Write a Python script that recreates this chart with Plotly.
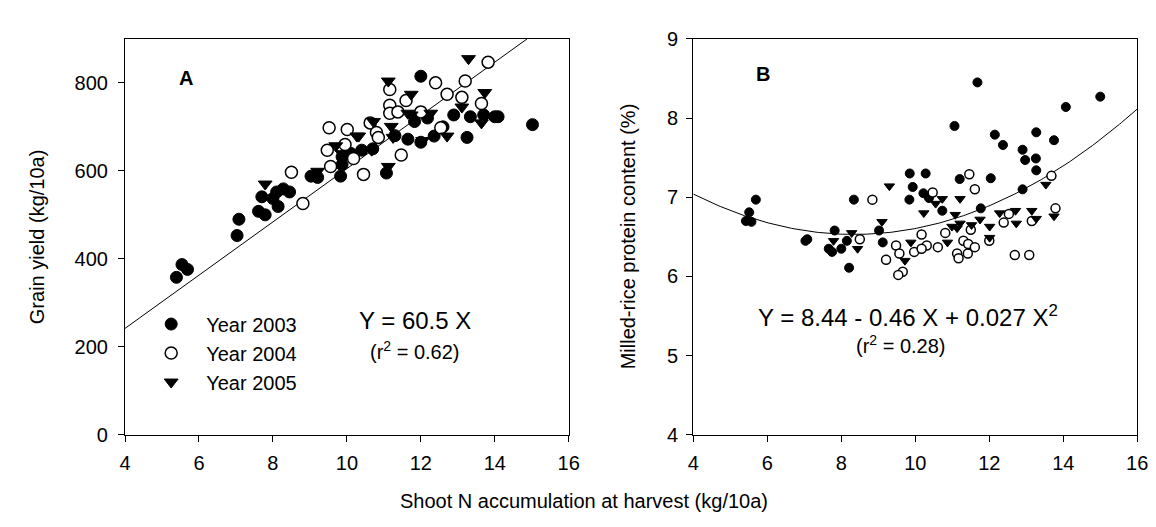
import numpy as np
import plotly.graph_objects as go
from plotly.subplots import make_subplots

# Panel A: grain yield (kg/10a) vs shoot N (kg/10a)
a03_x = [5.39, 5.54, 5.69, 7.03, 7.08, 7.61, 7.79, 7.70, 8.00, 8.14, 8.28, 8.45, 8.10,
         9.03, 9.21, 9.83, 9.87, 9.87, 10.10, 10.40, 10.70, 11.07, 11.30, 11.65, 11.83,
         12.00, 12.00, 12.18, 12.36, 12.60, 12.89, 13.25, 13.34, 13.70, 14.00, 14.09, 15.02]
a03_y = [358, 387, 376, 453, 490, 508, 500, 541, 537, 519, 559, 552, 552,
         588, 585, 588, 614, 632, 640, 647, 650, 595, 680, 672, 712,
         815, 665, 720, 679, 700, 727, 676, 723, 727, 723, 723, 705]

a04_x = [8.50, 8.81, 9.47, 9.52, 9.56, 9.95, 10.01, 10.18, 10.45, 10.63, 10.80, 10.85,
         11.16, 11.16, 11.16, 11.38, 11.47, 11.60, 12.00, 12.40, 12.54, 12.71, 13.11,
         13.20, 13.64, 13.82]
a04_y = [597, 526, 647, 698, 610, 660, 694, 628, 592, 709, 687, 676,
         785, 749, 731, 734, 636, 760, 734, 800, 698, 774, 767,
         804, 753, 847]

a05_x = [7.79, 9.21, 9.70, 9.87, 10.27, 10.32, 10.67, 10.72, 11.12, 11.12, 11.20, 11.25,
         11.65, 11.74, 11.74, 12.05, 12.27, 12.71, 13.11, 13.29, 13.64, 13.73]
a05_y = [570, 599, 657, 639, 679, 679, 647, 712, 804, 610, 701, 676,
         731, 774, 727, 669, 731, 679, 745, 855, 709, 778]

# Panel B: milled-rice protein content (%) vs shoot N (kg/10a)
b03_x = [5.42, 5.57, 5.51, 5.69, 7.03, 7.08, 7.66, 7.75, 7.82, 8.00, 8.15, 8.21, 8.34,
         9.02, 9.12, 9.85, 9.93, 9.84, 10.22, 10.28, 10.37, 10.73, 11.06, 11.20, 11.68,
         11.77, 12.04, 12.15, 12.37, 12.90, 12.90, 12.97, 13.26, 13.27, 13.27, 13.75,
         14.07, 15.00]
b03_y = [6.70, 6.69, 6.81, 6.97, 6.45, 6.47, 6.35, 6.31, 6.58, 6.35, 6.45, 6.11, 6.97,
         6.58, 6.43, 7.30, 7.13, 6.97, 7.05, 7.30, 6.99, 6.83, 7.90, 7.23, 8.45,
         6.86, 7.24, 7.79, 7.66, 7.60, 7.10, 7.47, 7.49, 7.34, 7.82, 7.72,
         8.14, 8.27]

b04_x = [8.84, 8.50, 9.48, 9.57, 9.21, 9.66, 9.54, 9.97, 10.17, 10.31, 10.17, 10.47,
         10.61, 10.81, 11.13, 11.17, 11.42, 11.30, 11.43, 11.61, 11.50, 11.46, 11.61,
         12.00, 12.39, 12.53, 12.69, 13.08, 13.15, 13.68, 13.79]
b04_y = [6.97, 6.47, 6.39, 6.29, 6.21, 6.06, 6.02, 6.31, 6.53, 6.39, 6.35, 7.06,
         6.37, 6.55, 6.29, 6.23, 6.29, 6.45, 6.41, 6.37, 6.59, 7.29, 7.10,
         6.45, 6.68, 6.79, 6.27, 6.27, 6.70, 7.27, 6.86]

b05_x = [7.79, 8.28, 8.44, 9.10, 9.30, 9.72, 9.88, 10.23, 10.55, 10.73, 10.87, 10.99,
         11.08, 11.13, 11.21, 11.21, 11.52, 11.75, 12.01, 12.01, 12.28, 12.71, 12.73,
         13.15, 13.27, 13.53, 13.75]
b05_y = [6.45, 6.55, 6.35, 6.69, 7.14, 6.20, 6.43, 6.80, 6.92, 6.98, 6.43, 6.63,
         6.78, 6.61, 6.67, 6.98, 6.65, 6.72, 6.63, 6.49, 6.80, 6.83, 6.67,
         6.83, 6.73, 7.16, 6.76]

# fitted lines
slope_a = 60.5
coef_b = [8.41, -0.4505, 0.027]

FONT = "Liberation Sans, Arial, sans-serif"
W, H = 1156, 527

fig = make_subplots(rows=1, cols=2)

years = ["Year 2003", "Year 2004", "Year 2005"]
styles = [
    dict(symbol="circle", color="black", line=dict(color="black", width=1)),
    dict(symbol="circle", color="white", line=dict(color="black", width=1.5)),
    dict(symbol="triangle-down", color="black", line=dict(color="black", width=1)),
]
panel_a = [(a03_x, a03_y), (a04_x, a04_y), (a05_x, a05_y)]
panel_b = [(b03_x, b03_y), (b04_x, b04_y), (b05_x, b05_y)]

# regression lines first, so points sit on top
xa = np.array([4, 900 / slope_a])
fig.add_trace(go.Scatter(x=xa, y=slope_a * xa, mode="lines", line=dict(color="black", width=1),
                         showlegend=False, hoverinfo="skip"), row=1, col=1)
xb = np.linspace(4, 16, 200)
fig.add_trace(go.Scatter(x=xb, y=coef_b[0] + coef_b[1] * xb + coef_b[2] * xb ** 2, mode="lines",
                         line=dict(color="black", width=1), showlegend=False, hoverinfo="skip"),
              row=1, col=2)

for i, name in enumerate(years):
    fig.add_trace(go.Scatter(x=panel_a[i][0], y=panel_a[i][1], mode="markers", name=name,
                             marker=dict(size=12, **styles[i])), row=1, col=1)
    fig.add_trace(go.Scatter(x=panel_b[i][0], y=panel_b[i][1], mode="markers", name=name,
                             showlegend=False, marker=dict(size=9, **styles[i])), row=1, col=2)

axis_style = dict(showline=True, linecolor="black", linewidth=1.3, mirror=True,
                  ticks="outside", ticklen=6, tickwidth=1, tickcolor="black",
                  showgrid=False, zeroline=False,
                  tickfont=dict(family=FONT, size=20, color="black"))

y0, y1 = 1 - 434 / H, 1 - 20.7 / H
fig.update_xaxes(axis_style)
fig.update_yaxes(axis_style)
fig.update_xaxes(range=[4, 16], dtick=2, domain=[112.7 / W, 563 / W], ticklabelstandoff=4, row=1, col=1)
fig.update_xaxes(range=[4, 16], dtick=2, domain=[689.5 / W, 1140 / W], ticklabelstandoff=4, row=1, col=2)
fig.update_yaxes(range=[0, 900], tickvals=[0, 200, 400, 600, 800], domain=[y0, y1],
                 ticklabelstandoff=6, row=1, col=1)
fig.update_yaxes(range=[4, 9], dtick=1, domain=[y0, y1], ticklabelstandoff=4, row=1, col=2)

ann = [
    dict(x=5.66, y=811, xref="x", yref="y", text="<b>A</b>", font=dict(size=20)),
    dict(x=5.88, y=8.55, xref="x2", yref="y2", text="<b>B</b>", font=dict(size=20)),
    dict(x=11.84, y=259, xref="x", yref="y", text="Y = 60.5 X", font=dict(size=24)),
    dict(x=11.84, y=192, xref="x", yref="y", text="(r<sup>2</sup> = 0.62)", font=dict(size=20)),
    dict(x=9.8, y=5.5, xref="x2", yref="y2", text="Y = 8.44 - 0.46 X + 0.027 X<sup>2</sup>",
         font=dict(size=24)),
    dict(x=9.61, y=5.14, xref="x2", yref="y2", text="(r<sup>2</sup> = 0.28)", font=dict(size=20)),
    dict(x=0.5, y=1 - 503 / H, xref="paper", yref="paper",
         text="Shoot N accumulation at harvest (kg/10a)", font=dict(size=20)),
    dict(x=23 / W, y=1 - 227 / H, xref="paper", yref="paper", textangle=-90,
         text="Grain yield (kg/10a)", font=dict(size=20)),
    dict(x=623 / W, y=1 - 227 / H, xref="paper", yref="paper", textangle=-90,
         text="Milled-rice protein content (%)", font=dict(size=20)),
]
for a in ann:
    a["font"].update(family=FONT, color="black")
    a.update(showarrow=False, xanchor="center", yanchor="middle")

fig.update_layout(
    width=W, height=H,
    margin=dict(l=0, r=0, t=0, b=0),
    plot_bgcolor="white", paper_bgcolor="white",
    annotations=ann,
    legend=dict(x=124 / W, y=1 - 298 / H, xanchor="left", yanchor="top",
                bgcolor="rgba(0,0,0,0)", font=dict(family=FONT, size=20, color="black"),
                itemwidth=60, itemsizing="trace"),
    font=dict(family=FONT, color="black"),
)

fig.write_html("out.html")
